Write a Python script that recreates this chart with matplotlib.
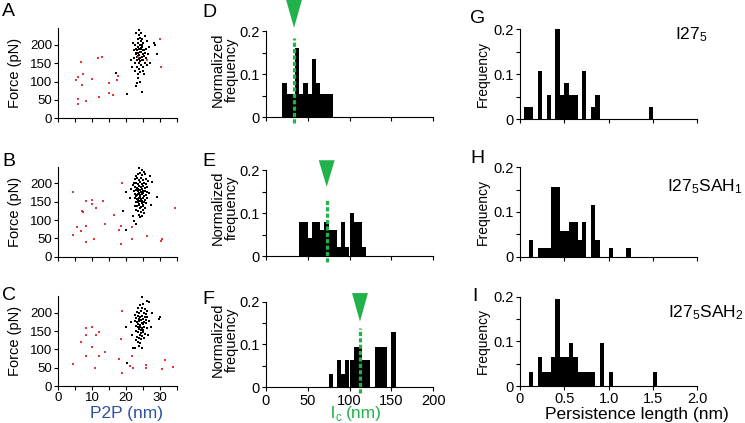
import numpy as np
import matplotlib
matplotlib.use('Agg')
import matplotlib.pyplot as plt
import matplotlib.transforms as mtransforms

plt.rcParams['font.family'] = ['Liberation Sans', 'DejaVu Sans']

W, H = 745, 423

# ---------------- data ----------------
# scatter: P2P distance (nm) vs force (pN); red = non-specific, black = accepted
a_red = [(5.1, 105), (5.8, 112), (6.8, 153), (7.3, 121), (7.1, 90), (5.7, 54), (5.9, 38),
         (8.1, 48), (10.0, 107), (11.7, 164), (13.0, 166), (11.9, 57), (15.0, 95), (15.0, 69),
         (16.0, 63), (17.4, 105), (17.5, 116), (23.5, 168), (26.3, 159), (29.9, 217), (30.2, 139)]
a_black = [(23.2, 185), (23.8, 190), (24.3, 180), (24.9, 175), (23.5, 170), (24.1, 165), (24.6, 195),
           (23.0, 178), (25.2, 185), (24.0, 200), (23.6, 205), (24.4, 210), (23.9, 172), (24.7, 168),
           (23.3, 160), (24.2, 155), (25.0, 160), (23.7, 150), (24.5, 188), (23.4, 195), (24.8, 200),
           (25.3, 170), (22.8, 190), (23.1, 168), (24.0, 182), (23.6, 178), (24.3, 192), (24.9, 185),
           (23.8, 162), (24.6, 158), (22.9, 175), (25.5, 178), (23.5, 215), (24.2, 220), (23.9, 228),
           (24.7, 215), (25.1, 205), (22.6, 200), (23.3, 140), (24.4, 145), (23.8, 135), (25.0, 140),
           (22.7, 150), (24.1, 125), (23.6, 120), (24.9, 130), (25.6, 150), (25.8, 190), (26.0, 165),
           (22.4, 165), (22.2, 185), (23.0, 232), (23.9, 240), (24.5, 233), (26.3, 145), (26.5, 175),
           (23.4, 110), (24.0, 100), (22.5, 130), (25.4, 120), (27.0, 150), (26.8, 195), (28.2, 205),
           (28.6, 200), (29.1, 175), (26.2, 210), (25.7, 225), (22.0, 205), (21.5, 160), (21.8, 140),
           (16.9, 123), (17.7, 115), (20.2, 65), (24.8, 71), (22.9, 88), (23.3, 95)]

b_red = [(4.2, 177), (4.2, 58), (5.5, 82), (6.6, 69), (7.0, 124), (7.3, 122), (8.2, 153), (8.3, 84),
         (8.2, 41), (10.0, 156), (9.8, 143), (11.1, 133), (10.6, 48), (13.1, 153), (13.7, 89),
         (16.3, 113), (17.8, 72), (18.6, 84), (18.6, 34), (18.8, 200), (21.7, 81), (21.8, 48),
         (26.1, 56), (30.3, 44), (30.6, 49), (34.5, 133)]
b_black = [(23.9, 243), (24.6, 236), (25.3, 232), (23.4, 226), (24.1, 228), (24.8, 222), (25.6, 225),
           (22.9, 220), (22.6, 212), (23.3, 214), (23.9, 210), (24.5, 215), (25.1, 208), (25.8, 212),
           (26.4, 206), (22.4, 200), (23.0, 202), (23.6, 198), (24.2, 203), (24.8, 199), (25.4, 201),
           (26.0, 197), (22.1, 196), (22.7, 191), (23.2, 188), (23.8, 192), (24.4, 189), (25.0, 193),
           (25.6, 187), (26.2, 190), (23.5, 185), (24.6, 184), (22.3, 180), (22.9, 182), (23.4, 178),
           (24.0, 181), (24.5, 177), (25.1, 180), (25.7, 178), (26.3, 176), (23.7, 175), (24.9, 174),
           (22.5, 170), (23.1, 168), (23.6, 171), (24.2, 167), (24.8, 170), (25.3, 166), (25.9, 169),
           (22.8, 165), (24.0, 164), (22.6, 160), (23.2, 158), (23.8, 161), (24.3, 157), (24.9, 160),
           (25.5, 156), (26.1, 159), (23.5, 154), (24.6, 153), (22.8, 150), (23.4, 148), (24.0, 151),
           (24.6, 147), (25.2, 150), (25.8, 146), (23.7, 143), (24.9, 142), (22.7, 139), (23.3, 137),
           (23.9, 140), (24.5, 136), (25.1, 138), (25.6, 134), (24.2, 132), (23.0, 128), (23.6, 125),
           (24.3, 122), (24.9, 127), (25.4, 120), (23.8, 115), (24.6, 112), (24.0, 108),
           (19.2, 126), (20.1, 74), (22.1, 110), (22.3, 98), (22.8, 88), (20.1, 177), (27.7, 205),
           (29.1, 163), (27.2, 140), (21.0, 160), (21.4, 185), (26.8, 175), (27.0, 220)]

c_red = [(4.2, 59), (6.6, 120), (8.1, 158), (8.1, 139), (8.3, 82), (10.0, 162), (9.8, 106),
         (11.2, 139), (11.9, 146), (10.8, 49), (12.0, 83), (13.8, 92), (17.8, 73), (18.4, 127),
         (18.8, 36), (18.8, 205), (21.1, 54), (21.8, 83), (22.1, 48), (25.8, 56), (26.0, 49),
         (30.6, 47), (31.6, 72), (33.7, 52)]
c_black = [(24.8, 242), (26.2, 233), (26.7, 228), (25.0, 225), (24.2, 220), (23.6, 212), (24.7, 214),
           (25.5, 210), (26.1, 205), (23.1, 203), (23.9, 200), (24.5, 205), (25.2, 198), (25.9, 196),
           (22.6, 195), (23.4, 190), (24.1, 188), (24.8, 192), (25.5, 187), (26.2, 189), (22.9, 185),
           (23.7, 183), (24.4, 180), (25.1, 182), (25.8, 179), (22.5, 176), (23.2, 174), (23.9, 177),
           (24.6, 172), (25.3, 175), (26.0, 171), (26.6, 176), (23.5, 169), (24.2, 166), (24.9, 168),
           (22.8, 163), (23.4, 160), (24.0, 162), (24.7, 158), (25.4, 161), (26.1, 157), (23.7, 155),
           (24.4, 152), (25.1, 154), (22.9, 149), (23.6, 146), (24.3, 144), (25.0, 147), (25.7, 143),
           (24.0, 139), (24.7, 136), (23.3, 135), (23.8, 130), (24.5, 127), (25.2, 131), (22.9, 125),
           (23.5, 120), (24.2, 117), (23.9, 110),
           (19.9, 161), (20.2, 64), (22.1, 103), (22.6, 103), (24.6, 103), (29.9, 189), (29.7, 184),
           (27.5, 200), (27.2, 160), (21.8, 140), (21.5, 175), (26.5, 140)]

# contour length histograms (bin left edge, nm; width 5 nm)
d_bins = [20, 25, 30, 35, 40, 45, 50, 55, 60, 65, 70, 75]
d_freq = [0.081, 0.054, 0.054, 0.161, 0.054, 0.081, 0.054, 0.135, 0.081, 0.054, 0.054, 0.054]
e_bins = [40, 45, 50, 55, 60, 65, 70, 75, 80, 85, 90, 95, 100, 105, 110, 115]
e_freq = [0.08, 0.08, 0.041, 0.08, 0.08, 0.06, 0.08, 0.06, 0.06, 0.02, 0.08, 0.02, 0.1, 0.08, 0.08, 0.02]
f_bins = [75, 85, 90, 95, 100, 105, 110, 115, 120, 130, 135, 140, 150]
f_freq = [0.032, 0.064, 0.032, 0.064, 0.064, 0.095, 0.095, 0.064, 0.064, 0.095, 0.095, 0.095, 0.129]
lc_median = [33.8, 72.8, 112.5]

# persistence length histograms (bin left edge, nm; width 0.05 nm)
g_bins = [0.05, 0.10, 0.20, 0.30, 0.40, 0.45, 0.50, 0.55, 0.60, 0.70, 0.80, 0.85, 1.45]
g_freq = [0.027, 0.027, 0.108, 0.054, 0.2, 0.054, 0.081, 0.054, 0.054, 0.108, 0.027, 0.054, 0.027]
h_bins = [0.10, 0.20, 0.25, 0.30, 0.35, 0.40, 0.45, 0.50, 0.55, 0.60, 0.65, 0.70, 0.80, 0.85, 1.00, 1.20]
h_freq = [0.038, 0.019, 0.019, 0.019, 0.155, 0.155, 0.058, 0.058, 0.077, 0.077, 0.038, 0.077,
          0.116, 0.038, 0.019, 0.019]
i_bins = [0.10, 0.20, 0.25, 0.30, 0.35, 0.40, 0.45, 0.50, 0.55, 0.60, 0.65, 0.70, 0.75, 0.80,
          0.90, 1.00, 1.50]
i_freq = [0.032, 0.065, 0.032, 0.032, 0.065, 0.194, 0.065, 0.065, 0.097, 0.065, 0.032, 0.032,
          0.032, 0.032, 0.097, 0.032, 0.032]

constructs = [r'I27$\mathregular{_5}$', r'I27$\mathregular{_5}$SAH$\mathregular{_1}$',
              r'I27$\mathregular{_5}$SAH$\mathregular{_2}$']

RED = '#e8323c'
GREEN = '#22b24b'
BLUE = '#2d51a3'


def rect(x0, x1, ytop, ybot):
    # pixel box -> figure fraction
    return [x0 / W, 1 - ybot / H, (x1 - x0) / W, (ybot - ytop) / H]


def style(ax, tick_size):
    for s in ['top', 'right']:
        ax.spines[s].set_visible(False)
    for s in ['left', 'bottom']:
        ax.spines[s].set_linewidth(0.8)
    ax.tick_params(which='major', direction='out', length=3, width=0.8, labelsize=tick_size, pad=1.5)
    ax.tick_params(which='minor', direction='out', length=3, width=0.8)


fig = plt.figure(figsize=(W / 100, H / 100), dpi=100)

# ---------------- column 1: scatter ----------------
scatter_sets = [(a_red, a_black, 118.3), (b_red, b_black, 256.7), (c_red, c_black, 386.0)]
for k, (red, black, ybot) in enumerate(scatter_sets):
    ax = fig.add_axes(rect(58.3, 177.0, ybot - 89.8, ybot))
    red = np.array(red)
    black = np.array(black)
    ax.scatter(black[:, 0], black[:, 1], s=4, c='black', marker='s', linewidths=0)
    ax.scatter(red[:, 0], red[:, 1], s=4, c=RED, marker='s', linewidths=0)
    ax.set_xlim(0, 35)
    ax.set_ylim(0, 245)
    ax.set_xticks([0, 10, 20, 30])
    ax.set_xticks([5, 15, 25, 35], minor=True)
    ax.set_yticks([0, 50, 100, 150, 200])
    style(ax, 9.5)
    if k < 2:
        ax.set_xticklabels([])
    fig.text(15.5 / W, 1 - (ybot - 45) / H, 'Force (pN)', rotation=90, ha='center', va='center',
             fontsize=10.5)
fig.text(126.5 / W, 1 - 413 / H, 'P2P (nm)', ha='center', va='center', fontsize=12.5, color=BLUE)

# ---------------- column 2: contour length ----------------
# (ybottom px, arrow top / tip and dotted-line top in axes fraction)
lc_sets = [(d_bins, d_freq, 117.3, 1.37, 1.043, 0.926),
           (e_bins, e_freq, 256.0, 1.116, 0.806, 0.674),
           (f_bins, f_freq, 387.3, 1.098, 0.766, 0.693)]
for k, (bins, freq, ybot, tri_top, tri_tip, dot_top) in enumerate(lc_sets):
    ax = fig.add_axes(rect(265.7, 433.3, ybot - 85.8, ybot))
    ax.bar(bins, freq, width=5, align='edge', color='black', linewidth=0)
    ax.set_xlim(0, 200)
    ax.set_ylim(0, 0.2)
    ax.set_xticks([0, 50, 100, 150, 200])
    ax.set_yticks([0, 0.1, 0.2])
    ax.set_yticklabels(['0', '0.1', '0.2'])
    ax.set_yticks([0.05, 0.15], minor=True)
    style(ax, 10.5)
    if k < 2:
        ax.set_xticklabels([])
    m = lc_median[k]
    blend = mtransforms.blended_transform_factory(ax.transData, ax.transAxes)
    ax.fill([m - 9.5, m + 9.5, m], [tri_top, tri_top, tri_tip], color=GREEN, transform=blend,
            clip_on=False, linewidth=0)
    ax.plot([m, m], [-0.07, dot_top], color=GREEN, lw=2.3, dashes=(1.3, 0.7), transform=blend,
            clip_on=False)
    fig.text(225 / W, 1 - (ybot - 48) / H, 'Normalized\nfrequency', rotation=90, ha='center',
             va='center', fontsize=10.5, linespacing=1.0)
# l_c (nm) written as three pieces so the subscript stays compact
fig.text(331 / W, 1 - 418 / H, 'l', ha='left', va='baseline', fontsize=12.5, color=GREEN)
fig.text(335.5 / W, 1 - 420.5 / H, 'c', ha='left', va='baseline', fontsize=8.5, color=GREEN)
fig.text(346 / W, 1 - 418 / H, '(nm)', ha='left', va='baseline', fontsize=12.5, color=GREEN)

# ---------------- column 3: persistence length ----------------
lp_sets = [(g_bins, g_freq, 119.0, 675, 35), (h_bins, h_freq, 256.7, 667, 187),
           (i_bins, i_freq, 386.0, 668, 313)]
for k, (bins, freq, ybot, label_x, label_y) in enumerate(lp_sets):
    ax = fig.add_axes(rect(520.0, 697.3, ybot - 89.5, ybot))
    ax.bar(bins, freq, width=0.05, align='edge', color='black', linewidth=0)
    ax.set_xlim(0, 2.0)
    ax.set_ylim(0, 0.2)
    ax.set_xticks([0, 0.5, 1.0, 1.5, 2.0])
    ax.set_xticklabels(['0', '0.5', '1.0', '1.5', '2.0'])
    ax.set_yticks([0, 0.1, 0.2])
    ax.set_yticklabels(['0', '0.1', '0.2'])
    ax.set_yticks([0.05, 0.15], minor=True)
    style(ax, 10.5)
    if k < 2:
        ax.set_xticklabels([])
    fig.text(483 / W, 1 - (ybot - 45) / H, 'Frequency', rotation=90, ha='center', va='center',
             fontsize=10)
    fig.text(label_x / W, 1 - label_y / H, constructs[k], ha='left', va='center', fontsize=12.5)
fig.text(636.5 / W, 1 - 414.5 / H, 'Persistence length (nm)', ha='center', va='center', fontsize=12.5)

# panel letters
letters = [('A', 2, 3), ('B', 2, 153), ('C', 2, 287), ('D', 202, 4), ('E', 202, 153),
           ('F', 202, 291), ('G', 470, 10), ('H', 470, 150), ('I', 472, 288)]
for s, x, y in letters:
    fig.text(x / W, 1 - y / H, s, ha='left', va='top', fontsize=14)

fig.savefig('out.png', dpi=100)
